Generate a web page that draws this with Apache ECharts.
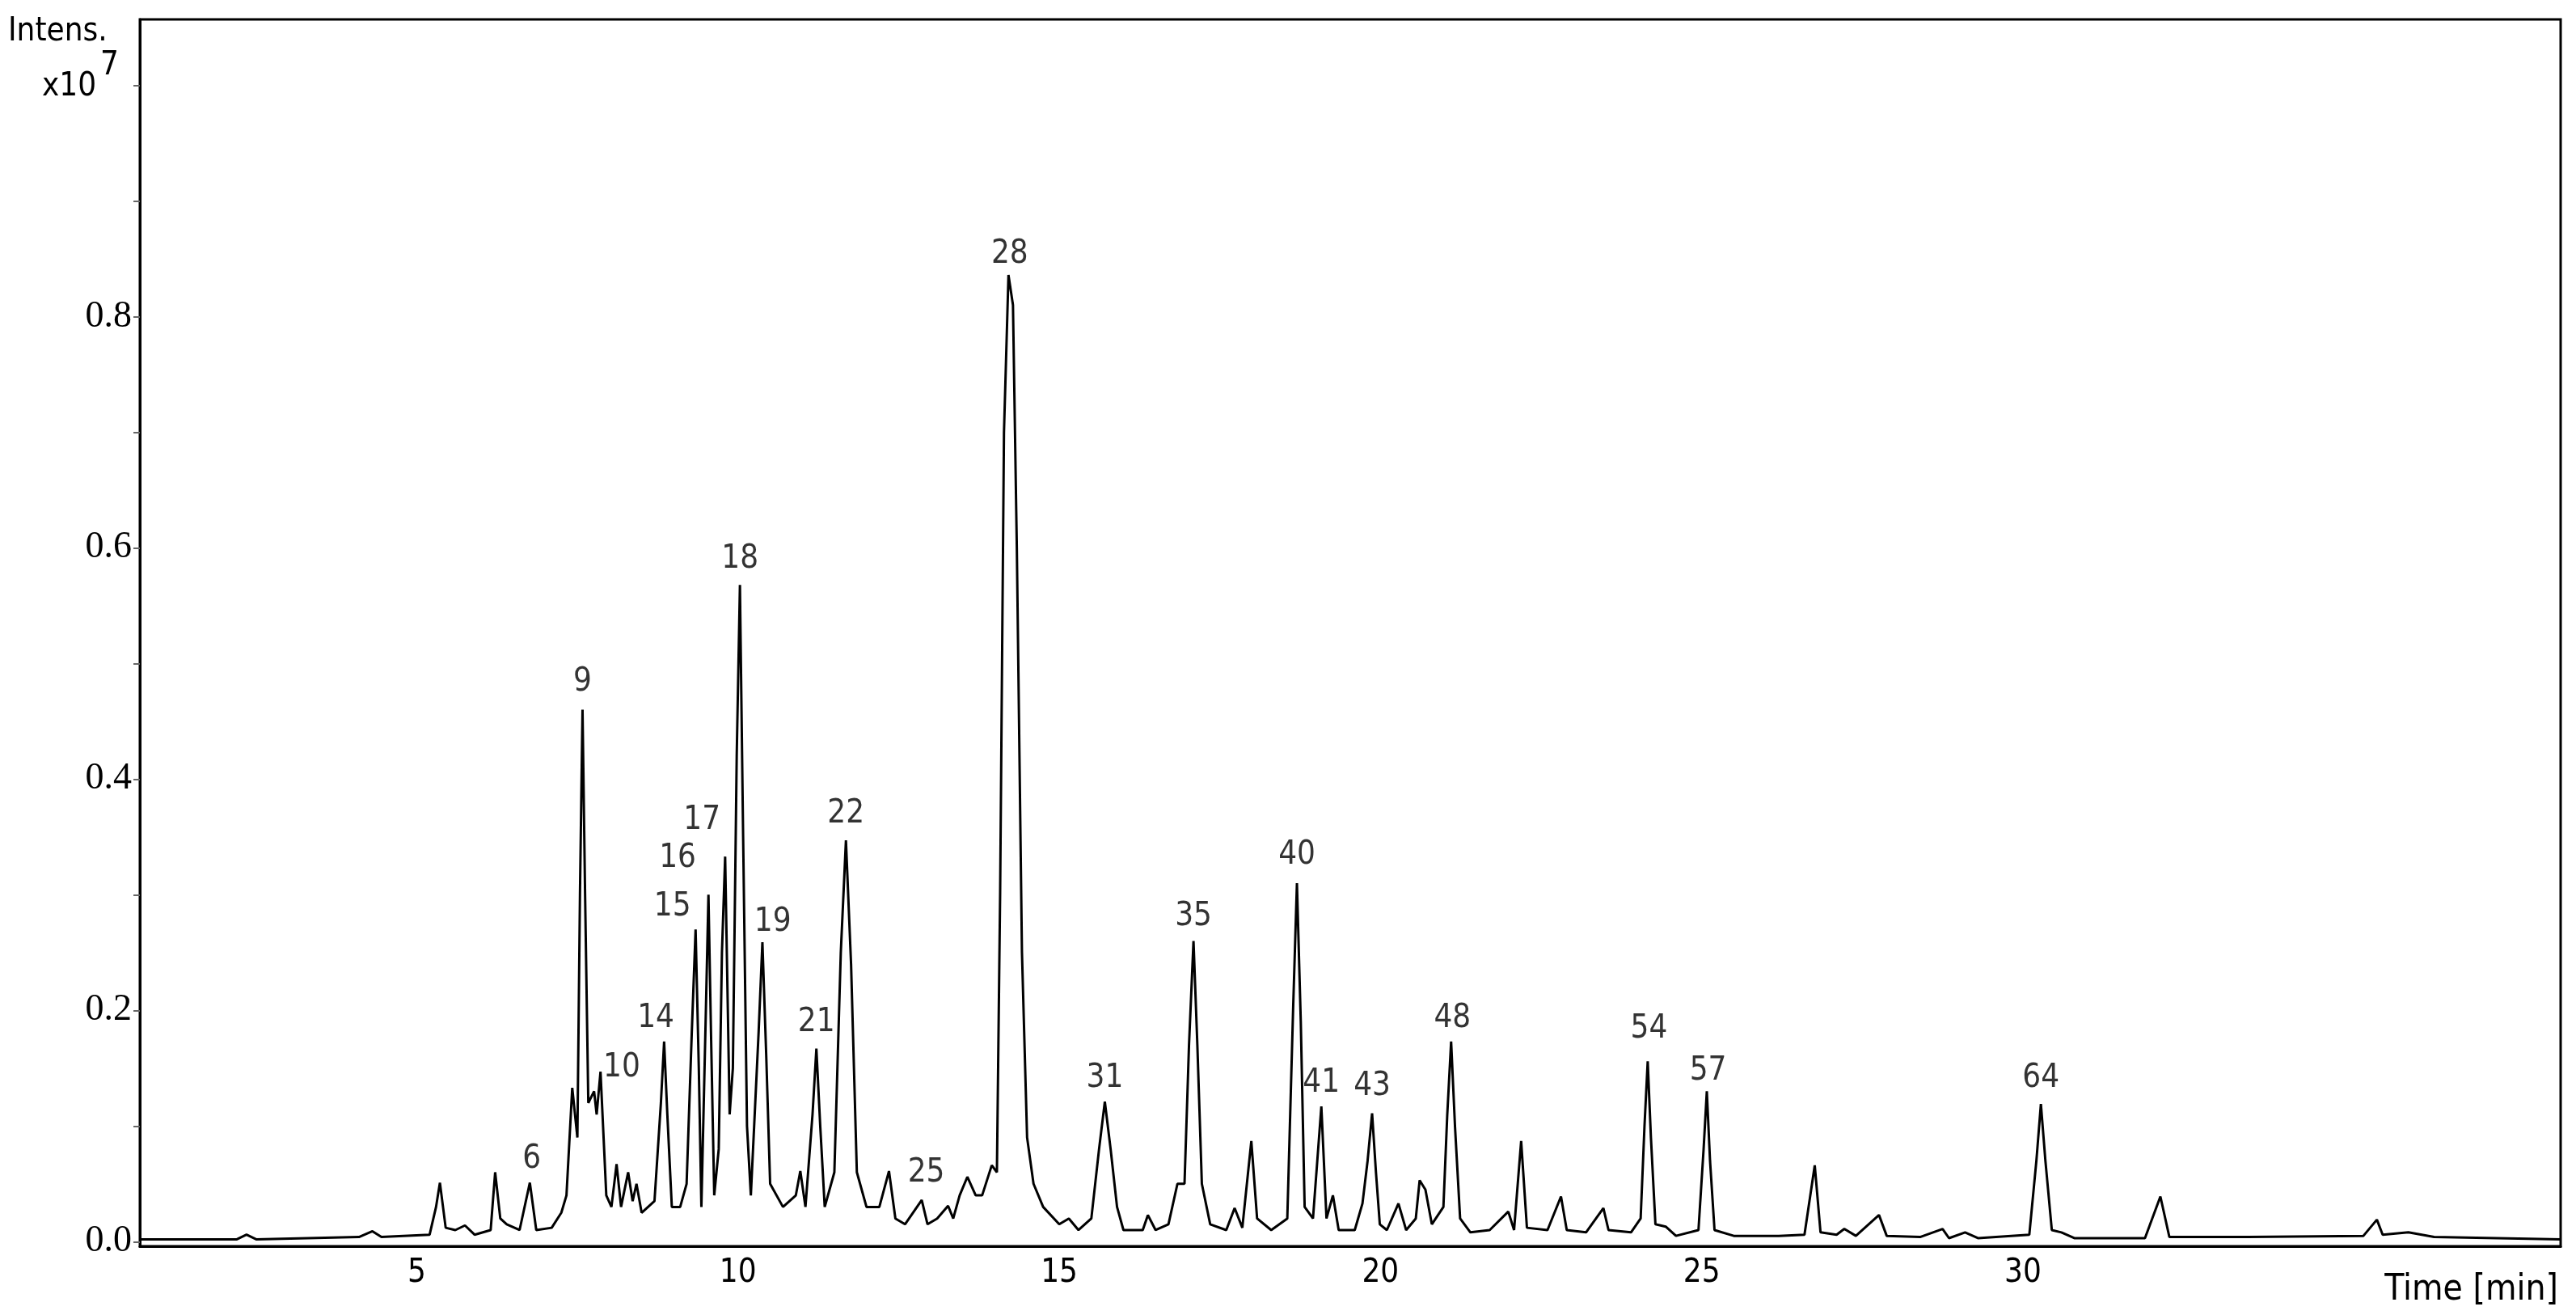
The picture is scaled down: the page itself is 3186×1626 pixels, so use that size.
<!DOCTYPE html>
<html><head><meta charset="utf-8">
<script src="https://cdn.jsdelivr.net/npm/echarts@6/dist/echarts.min.js"></script>
<style>html,body{margin:0;padding:0;background:#fff}#c{width:3186px;height:1626px}</style>
</head><body><div id="c"></div>
<script>
// chromatogram trace [time (min), intensity (x10^7)]
const trace = [[0.7,0.002],[2.2,0.002],[2.35,0.006],[2.5,0.002],[3.3,0.003],[4.1,0.004],[4.31,0.009],[4.45,0.004],[5.2,0.006],[5.3,0.03],[5.36,0.051],[5.45,0.012],[5.6,0.01],[5.75,0.014],[5.9,0.006],[6.15,0.01],[6.22,0.06],[6.3,0.02],[6.4,0.015],[6.6,0.01],[6.76,0.051],[6.86,0.01],[7.1,0.012],[7.25,0.025],[7.33,0.04],[7.42,0.133],[7.5,0.09],[7.54,0.3],[7.58,0.46],[7.62,0.3],[7.67,0.12],[7.76,0.13],[7.8,0.11],[7.86,0.147],[7.95,0.04],[8.03,0.03],[8.11,0.067],[8.18,0.03],[8.29,0.06],[8.36,0.035],[8.42,0.05],[8.5,0.025],[8.7,0.035],[8.8,0.12],[8.85,0.173],[8.9,0.11],[8.97,0.03],[9.1,0.03],[9.2,0.05],[9.28,0.18],[9.34,0.27],[9.39,0.15],[9.43,0.03],[9.5,0.2],[9.54,0.30],[9.58,0.18],[9.63,0.04],[9.7,0.08],[9.75,0.25],[9.8,0.333],[9.87,0.11],[9.92,0.15],[9.98,0.42],[10.03,0.568],[10.08,0.35],[10.14,0.1],[10.2,0.04],[10.32,0.18],[10.38,0.259],[10.44,0.16],[10.5,0.05],[10.7,0.03],[10.9,0.04],[10.97,0.061],[11.05,0.03],[11.16,0.11],[11.22,0.167],[11.28,0.1],[11.35,0.03],[11.5,0.06],[11.6,0.25],[11.68,0.347],[11.76,0.24],[11.85,0.06],[12.0,0.03],[12.2,0.03],[12.35,0.061],[12.45,0.02],[12.6,0.015],[12.86,0.036],[12.95,0.015],[13.1,0.02],[13.27,0.031],[13.35,0.02],[13.45,0.04],[13.57,0.056],[13.7,0.04],[13.8,0.04],[13.95,0.066],[14.03,0.06],[14.08,0.3],[14.14,0.7],[14.21,0.836],[14.28,0.81],[14.34,0.6],[14.42,0.25],[14.5,0.09],[14.6,0.05],[14.75,0.03],[15.0,0.015],[15.15,0.02],[15.3,0.01],[15.5,0.02],[15.62,0.08],[15.71,0.121],[15.8,0.08],[15.9,0.03],[16.0,0.01],[16.3,0.01],[16.38,0.023],[16.5,0.01],[16.7,0.015],[16.84,0.05],[16.95,0.05],[17.02,0.17],[17.09,0.26],[17.15,0.17],[17.22,0.05],[17.35,0.015],[17.6,0.01],[17.73,0.029],[17.85,0.012],[17.99,0.087],[18.08,0.02],[18.3,0.01],[18.55,0.02],[18.64,0.2],[18.70,0.31],[18.76,0.19],[18.82,0.03],[18.95,0.02],[19.08,0.117],[19.16,0.02],[19.26,0.04],[19.35,0.01],[19.6,0.01],[19.72,0.033],[19.8,0.07],[19.87,0.111],[19.93,0.06],[19.99,0.015],[20.1,0.01],[20.28,0.033],[20.4,0.01],[20.55,0.02],[20.61,0.053],[20.7,0.045],[20.8,0.015],[20.98,0.03],[21.04,0.11],[21.10,0.173],[21.16,0.1],[21.24,0.02],[21.4,0.008],[21.7,0.01],[21.99,0.026],[22.08,0.01],[22.19,0.087],[22.28,0.012],[22.6,0.01],[22.81,0.039],[22.9,0.01],[23.2,0.008],[23.47,0.029],[23.55,0.01],[23.9,0.008],[24.05,0.02],[24.11,0.1],[24.16,0.156],[24.21,0.09],[24.28,0.015],[24.44,0.013],[24.6,0.005],[24.95,0.01],[25.03,0.08],[25.08,0.13],[25.13,0.07],[25.2,0.01],[25.5,0.005],[26.2,0.005],[26.6,0.006],[26.76,0.066],[26.85,0.008],[27.1,0.006],[27.22,0.011],[27.4,0.005],[27.76,0.023],[27.88,0.005],[28.4,0.004],[28.75,0.011],[28.85,0.003],[29.1,0.008],[29.3,0.003],[30.1,0.006],[30.21,0.07],[30.28,0.119],[30.35,0.07],[30.45,0.01],[30.6,0.008],[30.8,0.003],[31.9,0.003],[32.14,0.039],[32.28,0.004],[33.5,0.004],[35.3,0.005],[35.51,0.019],[35.6,0.006],[36.0,0.008],[36.4,0.004],[38.37,0.002]];
// peak label anchors [time, intensity, label]
const peakLabels = [[6.79,0.071,'6'],[7.58,0.484,'9'],[8.19,0.15,'10'],[8.72,0.193,'14'],[8.98,0.289,'15'],[9.06,0.331,'16'],[9.44,0.364,'17'],[10.03,0.59,'18'],[10.54,0.276,'19'],[11.22,0.189,'21'],[11.68,0.37,'22'],[12.93,0.059,'25'],[14.23,0.854,'28'],[15.71,0.141,'31'],[17.09,0.281,'35'],[18.70,0.334,'40'],[19.08,0.137,'41'],[19.87,0.134,'43'],[21.12,0.193,'48'],[24.18,0.184,'54'],[25.10,0.147,'57'],[30.28,0.141,'64']];
const xTickLabels = [5,10,15,20,25,30];
const yTickLabels = [0,0.2,0.4,0.6,0.8];
const yMinorTicks = [0,0.1,0.2,0.3,0.4,0.5,0.6,0.7,0.8,0.9,1.0];

const NARROW = "'DejaVu Sans Condensed','Liberation Sans Narrow','Noto Sans',sans-serif";
const chart = echarts.init(document.getElementById('c'), null, {renderer:'canvas'});
chart.setOption({
  animation:false,
  grid:{left:173,right:19,top:24,bottom:85,show:true,borderColor:'#000',borderWidth:3},
  xAxis:{type:'value',min:0.69,max:38.37,
    axisLine:{onZero:false,lineStyle:{color:'#000',width:3}},
    axisTick:{show:false},splitLine:{show:false},
    axisLabel:{customValues:xTickLabels,fontFamily:NARROW,fontSize:40,color:'#000',margin:14}},
  yAxis:{type:'value',min:-0.004,max:1.057,
    axisLine:{onZero:false,lineStyle:{color:'#000',width:3}},
    axisTick:{show:true,customValues:yMinorTicks,length:8,lineStyle:{color:'#666',width:2}},
    splitLine:{show:false},
    axisLabel:{customValues:yTickLabels,formatter:v=>v.toFixed(1),fontFamily:"'Liberation Serif',serif",fontSize:46,color:'#000',margin:10}},
  graphic:[
    {type:'text',left:10,top:20,style:{text:'Intens.',font:"40px "+NARROW,fill:'#000'}},
    {type:'text',left:52,top:88,style:{text:'x10',font:"40px "+NARROW,fill:'#000'}},
    {type:'text',left:124,top:62,style:{text:'7',font:"40px "+NARROW,fill:'#000'}},
    {type:'text',right:22,bottom:8,style:{text:'Time [min]',font:"44px "+NARROW,fill:'#000'}}
  ],
  series:[
    {type:'line',data:trace,showSymbol:false,symbol:'none',lineStyle:{color:'#000',width:3},z:2},
    {type:'scatter',data:peakLabels.map(p=>({value:[p[0],p[1]],name:p[2]})),symbolSize:1,itemStyle:{color:'rgba(0,0,0,0)'},
     label:{show:true,position:'inside',formatter:p=>p.name,fontFamily:NARROW,fontSize:40,color:'#000'},z:3}
  ]
});
</script></body></html>
